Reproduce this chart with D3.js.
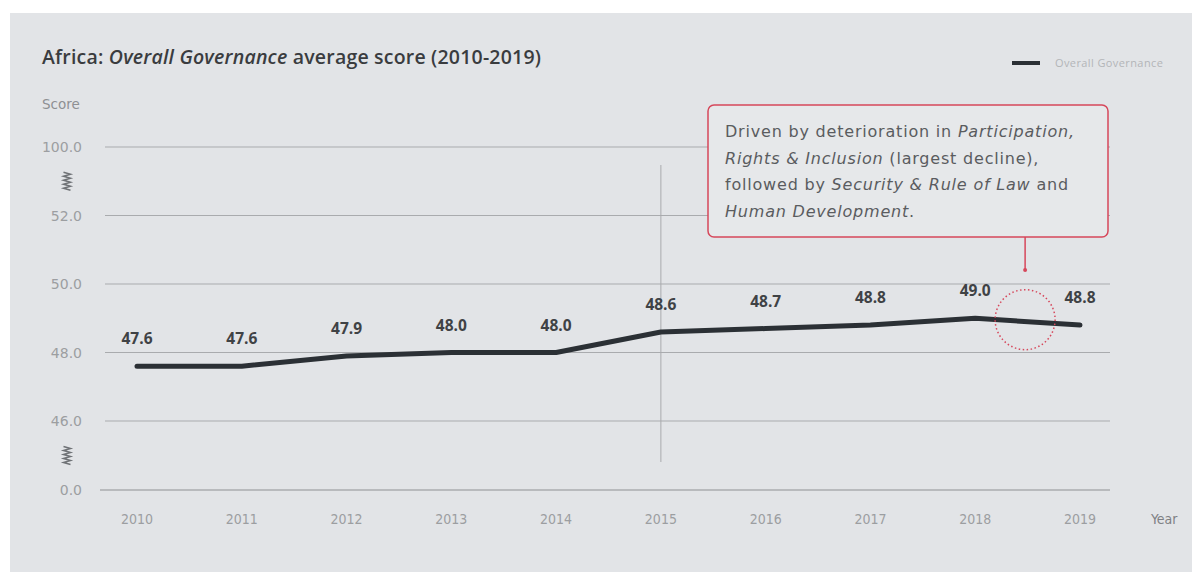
<!DOCTYPE html>
<meta charset="utf-8">
<head>
    <title>Overall Governance</title>
</head>
<style>
    body { margin: 0; background: #fff; }
    svg { display: block; font-family: 'Open Sans', 'Noto Sans', sans-serif; }
    .grid line { stroke: #a9abae; stroke-width: 1; }
    .tick-y { fill: #9c9ea1; font-size: 14px; font-family: 'DejaVu Sans', sans-serif; }
    .tick-x { fill: #9c9ea1; font-size: 14px; font-family: 'DejaVu Sans Condensed', 'Liberation Sans Narrow', sans-serif; }
    .val { fill: #3f4245; font-size: 15.5px; font-weight: 700; }
</style>
<body>
    <svg width="1192" height="572"></svg>

    <script src="https://cdnjs.cloudflare.com/ajax/libs/d3/7.8.5/d3.min.js"></script>
    <script>
        var years = [2010, 2011, 2012, 2013, 2014, 2015, 2016, 2017, 2018, 2019]
        var scores = [47.6, 47.6, 47.9, 48.0, 48.0, 48.6, 48.7, 48.8, 49.0, 48.8]
        // broken axis: evenly spaced ticks
        var yTicks = [0, 46, 48, 50, 52, 100]
        var breaks = [23, 76]   // squiggles between 0-46 and 52-100
        var noteLines = [
            [['Driven by deterioration in ', false], ['Participation,', true]],
            [['Rights & Inclusion', true], [' (largest decline),', false]],
            [['followed by ', false], ['Security & Rule of Law', true], [' and', false]],
            [['Human Development', true], ['.', false]]
        ]

        var svg = d3.select('svg')

        // panel
        svg.append('rect').attr('x', 10).attr('y', 13).attr('width', 1182).attr('height', 559)
            .attr('fill', '#e2e4e7')

        var x = d3.scalePoint().domain(years).range([137, 1080])
        var y = d3.scaleLinear().domain(yTicks).range([490, 421, 352.5, 284, 215.5, 147])

        // title
        var title = svg.append('text').attr('x', 42).attr('y', 64)
            .style('font-size', '19.5px').style('font-weight', 600).attr('fill', '#3a3c3f')
            .style('letter-spacing', '0.2px')
        title.append('tspan').text('Africa: ')
        title.append('tspan').style('font-style', 'italic').text('Overall Governance')
        title.append('tspan').text(' average score (2010-2019)')

        svg.append('text').attr('x', 42).attr('y', 109).text('Score')
            .attr('fill', '#8e9093').style('font-size', '13.5px').style('font-family', 'DejaVu Sans, sans-serif')

        // legend
        svg.append('line').attr('x1', 1012).attr('x2', 1040).attr('y1', 63).attr('y2', 63)
            .attr('stroke', '#2b3035').attr('stroke-width', 4)
        svg.append('text').attr('x', 1055).attr('y', 67).text('Overall Governance')
            .attr('fill', '#b3b5b8').style('font-size', '11px').style('letter-spacing', '0.4px')

        // gridlines
        svg.append('g').attr('class', 'grid').selectAll('line')
            .data(yTicks.filter(function (d) { return d > 0 }))
            .enter().append('line')
            .attr('x1', 105).attr('x2', 1110)
            .attr('y1', function (d) { return y(d) }).attr('y2', function (d) { return y(d) })

        svg.selectAll('.tick-y').data(yTicks).enter().append('text')
            .attr('class', 'tick-y')
            .attr('x', 82).attr('y', function (d) { return y(d) + 5 })
            .attr('text-anchor', 'end')
            .text(function (d) { return d3.format('.1f')(d) })

        // axis break squiggles
        breaks.forEach(function (b) {
            var cy = y(b)
            var pts = []
            for (var i = 0; i < 10; i++) pts.push([i % 2 ? 70.5 : 63.5, cy - 9 + i * 2])
            svg.append('path').attr('d', d3.line()(pts))
                .attr('fill', 'none').attr('stroke', '#6f7276').attr('stroke-width', 1.5)
        })

        // x axis
        svg.append('line').attr('x1', 100).attr('x2', 1110).attr('y1', y(0)).attr('y2', y(0))
            .attr('stroke', '#b8babd').attr('stroke-width', 2)
        svg.selectAll('.tick-x').data(years).enter().append('text')
            .attr('class', 'tick-x')
            .attr('x', function (d) { return x(d) }).attr('y', 524)
            .attr('text-anchor', 'middle')
            .text(function (d) { return d })
        svg.append('text').attr('x', 1151).attr('y', 524)
            .text('Year').attr('fill', '#7e8084').style('font-size', '14px')
            .style('font-family', "'DejaVu Sans Condensed', 'Liberation Sans Narrow', sans-serif")

        // 2015 marker line
        svg.append('line').attr('x1', x(2015)).attr('x2', x(2015)).attr('y1', 165).attr('y2', 462)
            .attr('stroke', '#a9abae').attr('stroke-width', 1)

        // data line
        svg.append('path').datum(years)
            .attr('d', d3.line()
                .x(function (d) { return x(d) })
                .y(function (d, i) { return y(scores[i]) }))
            .attr('fill', 'none').attr('stroke', '#2b3035').attr('stroke-width', 5)
            .attr('stroke-linecap', 'round').attr('stroke-linejoin', 'round')

        svg.selectAll('.val').data(years).enter().append('text')
            .attr('class', 'val')
            .attr('x', function (d) { return x(d) })
            .attr('y', function (d, i) { return y(scores[i]) - 22 })
            .attr('text-anchor', 'middle')
            .text(function (d, i) { return d3.format('.1f')(scores[i]) })

        // annotation
        var red = '#d6475b'
        var cx = (x(2018) + x(2019)) / 2 - 2.5, cy = (y(scores[8]) + y(scores[9])) / 2 - 2
        svg.append('circle').attr('cx', cx).attr('cy', cy).attr('r', 30)
            .attr('fill', 'none').attr('stroke', red).attr('stroke-width', 1.5)
            .attr('stroke-dasharray', '1.5,2.5')
        svg.append('line').attr('x1', cx).attr('x2', cx).attr('y1', 237).attr('y2', 270)
            .attr('stroke', red).attr('stroke-width', 1.5)
        svg.append('circle').attr('cx', cx).attr('cy', 270).attr('r', 2).attr('fill', red)

        svg.append('rect').attr('x', 708).attr('y', 105).attr('width', 400).attr('height', 132)
            .attr('rx', 6).attr('fill', '#e6e8ea').attr('stroke', red).attr('stroke-width', 1.5)

        noteLines.forEach(function (parts, i) {
            var t = svg.append('text').attr('x', 725).attr('y', 137 + i * 26.5)
                .attr('fill', '#5a5c5f').style('font-size', '16px')
                .style('font-family', 'DejaVu Sans, sans-serif').style('letter-spacing', '0.8px')
            parts.forEach(function (p) {
                t.append('tspan').text(p[0]).style('font-style', p[1] ? 'italic' : 'normal')
            })
        })
    </script>
</body>
</html>
